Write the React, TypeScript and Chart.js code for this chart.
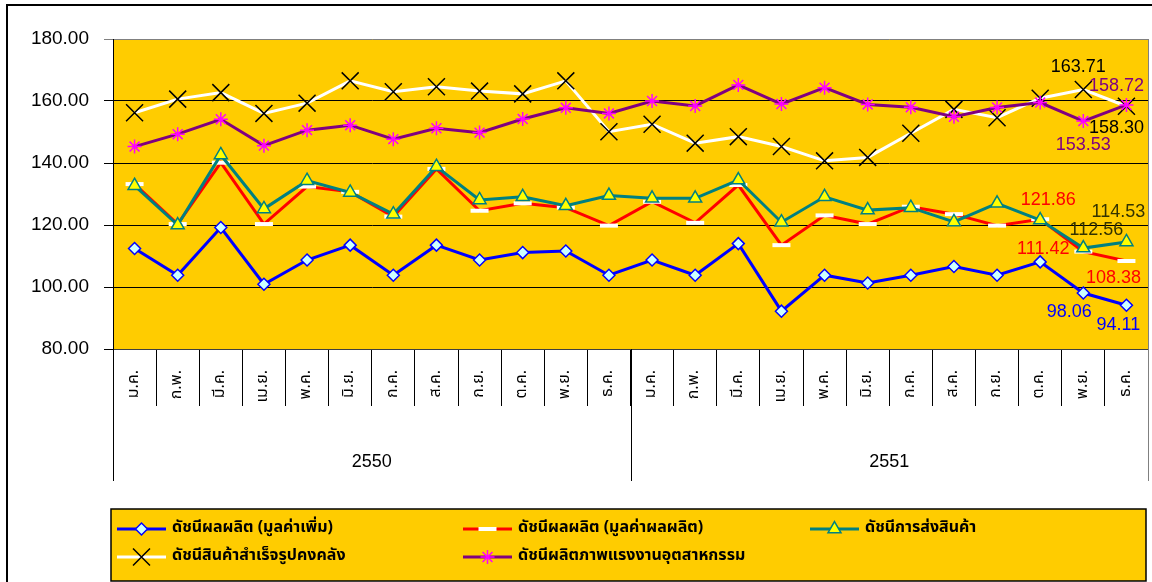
import React, { useEffect, useRef } from 'react';
import { Chart, registerables } from 'chart.js';
import { drawPoint } from 'chart.js/helpers';

Chart.register(...registerables);

const months = ['ม.ค.', 'ก.พ.', 'มี.ค.', 'เม.ย.', 'พ.ค.', 'มิ.ย.', 'ก.ค.', 'ส.ค.', 'ก.ย.', 'ต.ค.', 'พ.ย.', 'ธ.ค.'];
const years = ['2550', '2551'];
const categories = [...months, ...months];

const seriesNames = [
  'ดัชนีผลผลิต (มูลค่าเพิ่ม)',
  'ดัชนีผลผลิต (มูลค่าผลผลิต)',
  'ดัชนีการส่งสินค้า',
  'ดัชนีสินค้าสำเร็จรูปคงคลัง',
  'ดัชนีผลิตภาพแรงงานอุตสาหกรรม',
];

const valueAdded = [112.4, 103.8, 119.2, 100.9, 108.7, 113.5, 103.8, 113.5, 108.7, 111.1, 111.6, 103.8,
  108.7, 103.8, 114.0, 92.2, 103.8, 101.3, 103.8, 106.6, 103.8, 108.1, 98.06, 94.11];
const productionValue = [133.2, 120.3, 140.1, 120.3, 132.4, 130.7, 122.7, 138.1, 124.6, 127.0, 125.6, 119.8,
  127.5, 120.7, 132.9, 113.5, 123.1, 120.3, 125.9, 123.5, 119.8, 121.86, 111.42, 108.38];
const shipments = [132.7, 120.0, 142.6, 125.2, 134.3, 130.5, 123.5, 138.8, 128.1, 129.1, 126.2, 129.5,
  128.6, 128.6, 134.5, 120.9, 129.1, 124.8, 125.6, 121.0, 127.0, 121.6, 112.56, 114.53];
const inventory = [156.2, 160.6, 162.7, 156.0, 159.3, 166.5, 163.0, 164.6, 163.2, 162.3, 166.5, 150.1,
  152.5, 146.4, 148.5, 145.3, 140.7, 141.8, 149.6, 157.3, 154.6, 160.9, 163.71, 158.30];
const productivity = [145.3, 149.3, 154.1, 145.6, 150.6, 152.2, 147.7, 151.2, 149.8, 154.2, 157.8, 156.0,
  160.0, 158.4, 165.2, 159.0, 164.3, 158.9, 158.0, 154.9, 157.9, 159.5, 153.53, 158.72];

const yTicks = [80, 100, 120, 140, 160, 180];

// value labels: which series / point, and where the text sits relative to the point
const valueLabels = [
  { ds: 3, i: 22, dx: -5, dy: -22, color: '#000000' },
  { ds: 3, i: 23, dx: -10, dy: 22, color: '#000000' },
  { ds: 4, i: 23, dx: -10, dy: -19, color: '#800080' },
  { ds: 4, i: 22, dx: 0, dy: 24, color: '#800080' },
  { ds: 1, i: 21, dx: 8, dy: -19, color: '#FF0000' },
  { ds: 1, i: 22, dx: -40, dy: -3, color: '#FF0000' },
  { ds: 1, i: 23, dx: -13, dy: 17, color: '#FF0000' },
  { ds: 2, i: 22, dx: 13, dy: -18, color: '#333300' },
  { ds: 2, i: 23, dx: -8, dy: -30, color: '#333300' },
  { ds: 0, i: 22, dx: -14, dy: 19, color: '#0000FF' },
  { ds: 0, i: 23, dx: -8, dy: 20, color: '#0000FF' },
];

const NUM_FONT = 'Arial, "Liberation Sans", sans-serif';
const THAI_FONT = 'Tahoma, "Noto Sans Thai", "Noto Sans", "DejaVu Sans", sans-serif';

const decorPlugin = {
  id: 'decor',
  beforeDraw(chart: any) {
    const { ctx, chartArea: a } = chart;
    ctx.save();
    ctx.fillStyle = '#FFFFFF';
    ctx.fillRect(0, 0, chart.width, chart.height);
    ctx.fillStyle = '#FFCC00';
    ctx.fillRect(a.left, a.top, a.right - a.left, a.bottom - a.top);
    ctx.restore();
  },
  afterDatasetsDraw(chart: any) {
    const { ctx } = chart;
    ctx.save();
    ctx.font = `18px ${NUM_FONT}`;
    ctx.textAlign = 'center';
    ctx.textBaseline = 'middle';
    valueLabels.forEach((l) => {
      const meta = chart.getDatasetMeta(l.ds);
      const pt = meta.data[l.i];
      const v = chart.data.datasets[l.ds].data[l.i] as number;
      ctx.fillStyle = l.color;
      ctx.fillText(v.toFixed(2), pt.x + l.dx, pt.y + l.dy);
    });
    ctx.restore();
  },
  afterDraw(chart: any) {
    const { ctx, chartArea: a } = chart;
    const xs = chart.scales.x;
    ctx.save();
    // right border of plot area
    ctx.strokeStyle = '#808080';
    ctx.lineWidth = 1;
    ctx.beginPath();
    ctx.moveTo(a.right + 0.5, a.top);
    ctx.lineTo(a.right + 0.5, a.bottom);
    ctx.stroke();

    // group separators and year labels
    const mid = (xs.getPixelForValue(11) + xs.getPixelForValue(12)) / 2;
    const bounds = [xs.left, mid, xs.right];
    bounds.forEach((bx, k) => {
      ctx.strokeStyle = k === 2 ? '#808080' : '#000000';
      ctx.beginPath();
      ctx.moveTo(Math.round(bx) + 0.5, a.bottom);
      ctx.lineTo(Math.round(bx) + 0.5, 481);
      ctx.stroke();
    });
    ctx.fillStyle = '#000000';
    ctx.font = `18px ${NUM_FONT}`;
    ctx.textAlign = 'center';
    ctx.textBaseline = 'middle';
    years.forEach((y, k) => {
      ctx.fillText(y, (bounds[k] + bounds[k + 1]) / 2, 462);
    });

    // outer frame
    ctx.strokeStyle = '#000000';
    ctx.lineWidth = 2;
    ctx.beginPath();
    ctx.moveTo(7, chart.height + 2);
    ctx.lineTo(7, 5);
    ctx.lineTo(chart.width + 2, 5);
    ctx.stroke();

    // legend box
    const lx = 111, ly = 509, lw = 1035, lh = 72;
    ctx.fillStyle = '#FFCC00';
    ctx.fillRect(lx, ly, lw, lh);
    ctx.strokeStyle = '#000000';
    ctx.lineWidth = 1.5;
    ctx.strokeRect(lx, ly, lw, lh);

    const cols = [117, 463, 810];
    const rows = [529, 557];
    chart.data.datasets.forEach((ds: any, k: number) => {
      const cx = cols[k % 3];
      const cy = rows[Math.floor(k / 3)];
      ctx.strokeStyle = ds.borderColor;
      ctx.lineWidth = 3;
      ctx.beginPath();
      ctx.moveTo(cx, cy);
      ctx.lineTo(cx + 49, cy);
      ctx.stroke();
      ctx.fillStyle = ds.pointBackgroundColor;
      ctx.strokeStyle = ds.pointBorderColor;
      ctx.lineWidth = ds.pointBorderWidth;
      drawPoint(ctx, {
        pointStyle: ds.pointStyle,
        radius: ds.pointRadius,
        rotation: 0,
        borderWidth: ds.pointBorderWidth,
      } as any, cx + 24.5, cy);
      ctx.fillStyle = '#000000';
      ctx.font = `bold 16px ${THAI_FONT}`;
      ctx.textAlign = 'left';
      ctx.textBaseline = 'middle';
      ctx.fillText(ds.label, cx + 55, cy);
    });
    ctx.restore();
  },
};

export default function App() {
  const ref = useRef<HTMLCanvasElement | null>(null);

  useEffect(() => {
    if (!ref.current) return;
    const chart = new Chart(ref.current, {
      type: 'line',
      data: {
        labels: categories,
        datasets: [
          {
            label: seriesNames[0],
            data: valueAdded,
            borderColor: '#0000FF',
            borderWidth: 3,
            pointStyle: 'rectRot',
            pointRadius: 6,
            pointBackgroundColor: '#CCFFFF',
            pointBorderColor: '#0000FF',
            pointBorderWidth: 1.5,
            order: 4,
          },
          {
            label: seriesNames[1],
            data: productionValue,
            borderColor: '#FF0000',
            borderWidth: 3,
            pointStyle: 'line',
            pointRadius: 9,
            pointBackgroundColor: '#FFFFFF',
            pointBorderColor: '#FFFFFF',
            pointBorderWidth: 4,
            order: 3,
          },
          {
            label: seriesNames[2],
            data: shipments,
            borderColor: '#008080',
            borderWidth: 3,
            pointStyle: 'triangle',
            pointRadius: 7.5,
            pointBackgroundColor: '#FFFF00',
            pointBorderColor: '#008080',
            pointBorderWidth: 1.5,
            order: 2,
          },
          {
            label: seriesNames[3],
            data: inventory,
            borderColor: '#FFFFFF',
            borderWidth: 3,
            pointStyle: 'crossRot',
            pointRadius: 12,
            pointBackgroundColor: '#000000',
            pointBorderColor: '#000000',
            pointBorderWidth: 1.5,
            order: 1,
          },
          {
            label: seriesNames[4],
            data: productivity,
            borderColor: '#800080',
            borderWidth: 3,
            pointStyle: 'star',
            pointRadius: 7,
            pointBackgroundColor: '#FF00FF',
            pointBorderColor: '#FF00FF',
            pointBorderWidth: 1.5,
            order: 0,
          },
        ],
      },
      options: {
        animation: false,
        responsive: false,
        devicePixelRatio: 1,
        layout: { autoPadding: false, padding: { top: 39, right: 4, left: 0, bottom: 0 } },
        plugins: {
          legend: { display: false },
          tooltip: { enabled: false },
        },
        elements: { line: { tension: 0 } },
        scales: {
          x: {
            type: 'category',
            offset: true,
            grid: {
              offset: true,
              drawOnChartArea: false,
              tickLength: 57,
              color: '#000000',
              lineWidth: 1,
            },
            border: { color: '#404040', width: 1 },
            ticks: {
              autoSkip: false,
              minRotation: 90,
              maxRotation: 90,
              padding: -36,
              color: '#000000',
              font: { family: THAI_FONT, size: 16 },
            },
            afterFit: (s: any) => { s.height = 233; s.paddingLeft = 0; s.paddingRight = 0; },
          },
          y: {
            min: 80,
            max: 180,
            afterBuildTicks: (s: any) => { s.ticks = yTicks.map((v) => ({ value: v })); },
            grid: {
              color: (c: any) => (c.tick && c.tick.value === 180 ? '#808080' : '#000000'),
              lineWidth: 1,
              tickLength: 9,
            },
            border: { color: '#000000', width: 1 },
            ticks: {
              padding: 15,
              color: '#000000',
              font: { family: NUM_FONT, size: 19 },
              callback: (v: any) => Number(v).toFixed(2),
            },
            afterFit: (s: any) => { s.width = 113; },
          },
        },
      },
      plugins: [decorPlugin],
    });
    return () => chart.destroy();
  }, []);

  return (
    <div style={{ position: 'fixed', left: 0, top: 0, width: 1152, height: 582, background: '#fff' }}>
      <canvas ref={ref} width={1152} height={582} style={{ display: 'block', width: 1152, height: 582 }} />
    </div>
  );
}
